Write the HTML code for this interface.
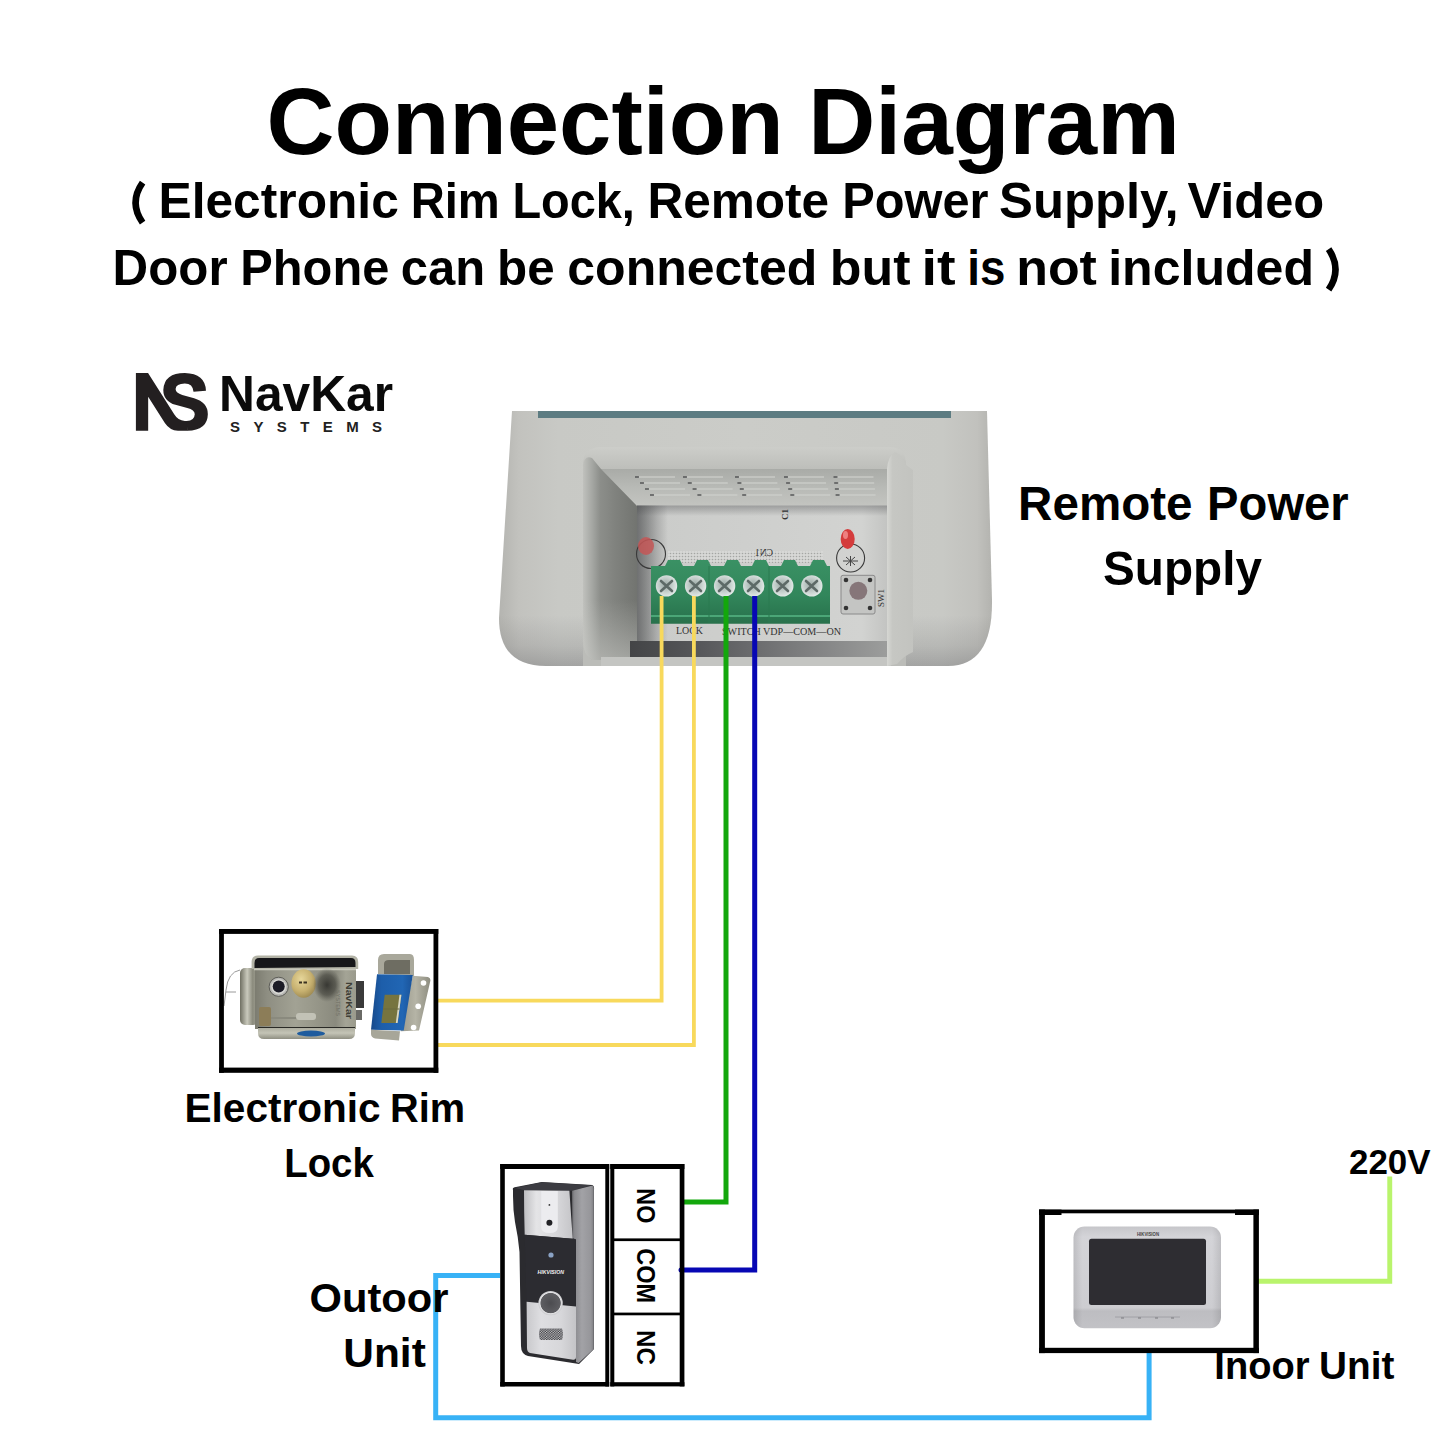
<!DOCTYPE html>
<html><head><meta charset="utf-8"><title>Connection Diagram</title>
<style>
html,body{margin:0;padding:0;background:#fff;}
body{width:1445px;height:1445px;overflow:hidden;position:relative;font-family:"Liberation Sans",sans-serif;}
svg{position:absolute;left:0;top:0;display:block;}
svg{font-family:"Liberation Sans",sans-serif;font-weight:bold;}
</style></head>
<body>
<svg width="1445" height="1445" viewBox="0 0 1445 1445">
<defs>
</defs>
<rect width="1445" height="1445" fill="#fff"/>

<!-- TITLE -->
<g id="titles" fill="#000">
<text x="266.5" y="153.5" font-size="94" textLength="517.3" lengthAdjust="spacingAndGlyphs">Connection</text>
<text x="808.3" y="153.5" font-size="94" textLength="371.5" lengthAdjust="spacingAndGlyphs">Diagram</text>
<path d="M142.6,182.6 Q128.6,202.6 142.6,222.6" fill="none" stroke="#000" stroke-width="6.6"/>
<text x="158.5" y="218.4" font-size="50" textLength="240.3" lengthAdjust="spacingAndGlyphs">Electronic</text>
<text x="410.7" y="218.4" font-size="50" textLength="89.1" lengthAdjust="spacingAndGlyphs">Rim</text>
<text x="512.4" y="218.4" font-size="50" textLength="122.5" lengthAdjust="spacingAndGlyphs">Lock,</text>
<text x="647.4" y="218.4" font-size="50" textLength="181.8" lengthAdjust="spacingAndGlyphs">Remote</text>
<text x="842.3" y="218.4" font-size="50" textLength="146.2" lengthAdjust="spacingAndGlyphs">Power</text>
<text x="999.1" y="218.4" font-size="50" textLength="179.6" lengthAdjust="spacingAndGlyphs">Supply,</text>
<text x="1187.4" y="218.4" font-size="50" textLength="136.9" lengthAdjust="spacingAndGlyphs">Video</text>
<text x="112.6" y="285" font-size="50" textLength="115.0" lengthAdjust="spacingAndGlyphs">Door</text>
<text x="240.3" y="285" font-size="50" textLength="149.0" lengthAdjust="spacingAndGlyphs">Phone</text>
<text x="400.8" y="285" font-size="50" textLength="84.4" lengthAdjust="spacingAndGlyphs">can</text>
<text x="497.0" y="285" font-size="50" textLength="57.6" lengthAdjust="spacingAndGlyphs">be</text>
<text x="567.3" y="285" font-size="50" textLength="250.1" lengthAdjust="spacingAndGlyphs">connected</text>
<text x="829.8" y="285" font-size="50" textLength="80.7" lengthAdjust="spacingAndGlyphs">but</text>
<text x="921.5" y="285" font-size="50" textLength="34.1" lengthAdjust="spacingAndGlyphs">it</text>
<text x="967.2" y="285" font-size="50" textLength="38.1" lengthAdjust="spacingAndGlyphs">is</text>
<text x="1016.2" y="285" font-size="50" textLength="80.7" lengthAdjust="spacingAndGlyphs">not</text>
<text x="1108.2" y="285" font-size="50" textLength="205.8" lengthAdjust="spacingAndGlyphs">included</text>
<path d="M1328.6,249.2 Q1342.4,269.4 1328.6,289.6" fill="none" stroke="#000" stroke-width="6.6"/>
</g>

<!-- POWER SUPPLY -->
<g id="psu">
<defs>
<linearGradient id="psBody" x1="499" y1="0" x2="992" y2="0" gradientUnits="userSpaceOnUse">
 <stop offset="0" stop-color="#b4b4b0"/><stop offset="0.04" stop-color="#c2c2be"/><stop offset="0.12" stop-color="#c8c9c5"/><stop offset="0.5" stop-color="#cbccc8"/><stop offset="0.9" stop-color="#c8c9c5"/><stop offset="0.97" stop-color="#c1c1bd"/><stop offset="1" stop-color="#b3b3af"/>
</linearGradient>
<linearGradient id="psBottom" x1="0" y1="615" x2="0" y2="666" gradientUnits="userSpaceOnUse">
 <stop offset="0" stop-color="#202028" stop-opacity="0"/><stop offset="0.6" stop-color="#202028" stop-opacity="0.1"/><stop offset="1" stop-color="#202028" stop-opacity="0.22"/>
</linearGradient>
<linearGradient id="psLipShade" x1="0" y1="446" x2="0" y2="470" gradientUnits="userSpaceOnUse">
 <stop offset="0" stop-color="#000" stop-opacity="0"/><stop offset="1" stop-color="#000" stop-opacity="0.07"/>
</linearGradient>
<linearGradient id="psVent" x1="0" y1="469" x2="0" y2="506" gradientUnits="userSpaceOnUse">
 <stop offset="0" stop-color="#a9aba7"/><stop offset="0.5" stop-color="#b8bab6"/><stop offset="1" stop-color="#c3c4c0"/>
</linearGradient>
<linearGradient id="psLW" x1="583" y1="0" x2="637" y2="0" gradientUnits="userSpaceOnUse">
 <stop offset="0" stop-color="#c0c1bd"/><stop offset="0.17" stop-color="#a5a7a3"/><stop offset="0.32" stop-color="#8c8e8a"/><stop offset="0.6" stop-color="#80827e"/><stop offset="1" stop-color="#727470"/>
</linearGradient>
<linearGradient id="psLWv" x1="0" y1="600" x2="0" y2="660" gradientUnits="userSpaceOnUse">
 <stop offset="0" stop-color="#c8c9c5" stop-opacity="0"/><stop offset="1" stop-color="#c8c9c5" stop-opacity="0.55"/>
</linearGradient>
<linearGradient id="psPcbShade" x1="637" y1="0" x2="668" y2="0" gradientUnits="userSpaceOnUse">
 <stop offset="0" stop-color="#3e3f42" stop-opacity="0.6"/><stop offset="1" stop-color="#3e3f42" stop-opacity="0"/>
</linearGradient>
<linearGradient id="psPcb" x1="637" y1="0" x2="887" y2="0" gradientUnits="userSpaceOnUse">
 <stop offset="0" stop-color="#b9bbb8"/><stop offset="0.08" stop-color="#cbccca"/><stop offset="0.9" stop-color="#d2d3d1"/><stop offset="1" stop-color="#c3c4c2"/>
</linearGradient>
<linearGradient id="psDark" x1="630" y1="0" x2="887" y2="0" gradientUnits="userSpaceOnUse">
 <stop offset="0" stop-color="#434446"/><stop offset="0.27" stop-color="#56575a"/><stop offset="0.66" stop-color="#7c7d7e"/><stop offset="1" stop-color="#9c9d9c"/>
</linearGradient>
<linearGradient id="psRW" x1="887" y1="0" x2="915" y2="0" gradientUnits="userSpaceOnUse">
 <stop offset="0" stop-color="#d6d7d3"/><stop offset="0.2" stop-color="#c6c7c3"/><stop offset="1" stop-color="#c2c3bf"/>
</linearGradient>
<linearGradient id="psTB" x1="0" y1="560" x2="0" y2="624" gradientUnits="userSpaceOnUse">
 <stop offset="0" stop-color="#3a9164"/><stop offset="0.55" stop-color="#32865b"/><stop offset="0.8" stop-color="#2c7a52"/><stop offset="1" stop-color="#29714c"/>
</linearGradient>
<radialGradient id="psScrew" cx="0.45" cy="0.45" r="0.6">
 <stop offset="0" stop-color="#9aa8a4"/><stop offset="0.6" stop-color="#c9d3d0"/><stop offset="1" stop-color="#e8eeec"/>
</radialGradient>
<pattern id="psDots" width="3" height="3" patternUnits="userSpaceOnUse"><rect width="3" height="3" fill="#d9dad8"/><circle cx="1.5" cy="1.5" r="0.8" fill="#9a9c99"/></pattern>
</defs>
<path d="M512,411 L987,411 L992,600 Q993,666 948,666 L546,666 Q499,666 499,618 Z" fill="url(#psBody)"/>
<path d="M512,411 L987,411 L992,600 Q993,666 948,666 L546,666 Q499,666 499,618 Z" fill="url(#psBottom)"/>
<rect x="538" y="411" width="413" height="7" fill="#5d7c82"/>
<!-- opening -->
<linearGradient id="psOpen" x1="0" y1="446" x2="0" y2="472" gradientUnits="userSpaceOnUse"><stop offset="0" stop-color="#cdceca"/><stop offset="1" stop-color="#bbbcb8"/></linearGradient>
<path d="M583,666 L583,465 Q583,447 601,447 L889,447 Q906,447 906,465 L906,666 Z" fill="url(#psOpen)"/>
<!-- vent wall -->
<rect x="601" y="469" width="290" height="37" fill="url(#psVent)"/>
<g stroke="#cfd0cc" stroke-width="1.3" opacity="0.8"><line x1="638.0" y1="477" x2="675.0" y2="477"/><line x1="643.0" y1="483" x2="680.0" y2="483"/><line x1="648.0" y1="489" x2="685.0" y2="489"/><line x1="653.0" y1="495" x2="690.0" y2="495"/><line x1="686.0" y1="477" x2="723.0" y2="477"/><line x1="690.8" y1="483" x2="727.8" y2="483"/><line x1="695.6" y1="489" x2="732.6" y2="489"/><line x1="700.4" y1="495" x2="737.4" y2="495"/><line x1="738.0" y1="477" x2="775.0" y2="477"/><line x1="740.4" y1="483" x2="777.4" y2="483"/><line x1="742.8" y1="489" x2="779.8" y2="489"/><line x1="745.2" y1="495" x2="782.2" y2="495"/><line x1="787.0" y1="477" x2="824.0" y2="477"/><line x1="789.1" y1="483" x2="826.1" y2="483"/><line x1="791.2" y1="489" x2="828.2" y2="489"/><line x1="793.3" y1="495" x2="830.3" y2="495"/><line x1="836.5" y1="477" x2="873.5" y2="477"/><line x1="837.2" y1="483" x2="874.2" y2="483"/><line x1="837.9" y1="489" x2="874.9" y2="489"/><line x1="838.6" y1="495" x2="875.6" y2="495"/></g>
<g stroke="#4c4d4f" stroke-width="1.7" opacity="0.8"><line x1="635.0" y1="477" x2="639.0" y2="477"/><line x1="640.0" y1="483" x2="644.0" y2="483"/><line x1="645.0" y1="489" x2="649.0" y2="489"/><line x1="650.0" y1="495" x2="654.0" y2="495"/><line x1="683.0" y1="477" x2="687.0" y2="477"/><line x1="687.8" y1="483" x2="691.8" y2="483"/><line x1="692.6" y1="489" x2="696.6" y2="489"/><line x1="697.4" y1="495" x2="701.4" y2="495"/><line x1="735.0" y1="477" x2="739.0" y2="477"/><line x1="737.4" y1="483" x2="741.4" y2="483"/><line x1="739.8" y1="489" x2="743.8" y2="489"/><line x1="742.2" y1="495" x2="746.2" y2="495"/><line x1="784.0" y1="477" x2="788.0" y2="477"/><line x1="786.1" y1="483" x2="790.1" y2="483"/><line x1="788.2" y1="489" x2="792.2" y2="489"/><line x1="790.3" y1="495" x2="794.3" y2="495"/><line x1="833.5" y1="477" x2="837.5" y2="477"/><line x1="834.2" y1="483" x2="838.2" y2="483"/><line x1="834.9" y1="489" x2="838.9" y2="489"/><line x1="835.6" y1="495" x2="839.6" y2="495"/></g>
<!-- left inner wall -->
<path d="M583,466 Q584,455 592,458 L601,469 L637,506 L637,660 L592,660 Q583,655 583,640 Z" fill="url(#psLW)"/>
<path d="M583,600 L637,600 L637,660 L592,660 Q583,655 583,640 Z" fill="url(#psLWv)"/>
<!-- PCB -->
<rect x="637" y="505.5" width="250" height="136" fill="url(#psPcb)"/>
<rect x="637" y="505.5" width="31" height="136" fill="url(#psPcbShade)"/>
<linearGradient id="psPcbTop" x1="0" y1="505.5" x2="0" y2="516" gradientUnits="userSpaceOnUse"><stop offset="0" stop-color="#3e3f42" stop-opacity="0.35"/><stop offset="1" stop-color="#3e3f42" stop-opacity="0"/></linearGradient>
<rect x="637" y="505.5" width="250" height="11" fill="url(#psPcbTop)"/>
<rect x="630" y="641" width="257" height="16" fill="url(#psDark)"/>
<rect x="601" y="657" width="290" height="9" fill="#c4c5c2"/>
<!-- right inner wall -->
<path d="M887,469 Q888,456 895,452 Q903,455 906,465 L913,470 L913,652 Q905,655 897,664 L887,666 Z" fill="url(#psRW)"/>
<!-- dotted area -->
<rect x="668" y="551" width="155" height="12" fill="url(#psDots)" opacity="0.8"/>
<!-- LEDs & outlines -->
<circle cx="651" cy="554" r="14.5" fill="none" stroke="#3a3a3a" stroke-width="1.1"/>
<ellipse cx="646" cy="546" rx="8" ry="9" fill="#c45656" opacity="0.85"/>
<circle cx="850.6" cy="558" r="14" fill="none" stroke="#3a3a3a" stroke-width="1.1"/>
<path d="M843,561 L858,561 M850.5,556 L850.5,566 M846,557 L855,565 M855,557 L846,565" stroke="#444" stroke-width="1"/>
<ellipse cx="847.7" cy="539" rx="7" ry="10" fill="#d43c3c"/>
<ellipse cx="845.5" cy="535" rx="2.5" ry="4" fill="#ee8080"/>
<!-- terminal block -->
<path d="M651,566 L665,566 L668,560 L680,560 L683,566 L694,566 L697,560 L708,560 L711,566 L724,566 L727,560 L738,560 L741,566 L752,566 L755,560 L766,560 L769,566 L781,566 L784,560 L795,560 L798,566 L810,566 L813,560 L824,560 L827,566 L830,566 L830,623.7 L651,623.7 Z" fill="url(#psTB)"/>
<line x1="651" y1="616" x2="830" y2="616" stroke="#4ba677" stroke-width="2"/>
<line x1="709" y1="566" x2="709" y2="623" stroke="#2a7a50" stroke-width="1"/>
<line x1="769" y1="566" x2="769" y2="623" stroke="#2a7a50" stroke-width="1"/>
<g>
<circle cx="666.5" cy="585.9" r="10.7" fill="url(#psScrew)"/><circle cx="695.6" cy="585.9" r="10.7" fill="url(#psScrew)"/><circle cx="724.6" cy="585.9" r="10.7" fill="url(#psScrew)"/><circle cx="753.7" cy="585.9" r="10.7" fill="url(#psScrew)"/><circle cx="782.8" cy="585.9" r="10.7" fill="url(#psScrew)"/><circle cx="811.8" cy="585.9" r="10.7" fill="url(#psScrew)"/>
</g>
<g stroke="#5d6a67" stroke-width="2.6" stroke-linecap="round">
<path d="M661,581 L672,591 M672,581 L661,591"/><path d="M690,581 L701,591 M701,581 L690,591"/><path d="M719,581 L730,591 M730,581 L719,591"/><path d="M748,581 L759,591 M759,581 L748,591"/><path d="M777,581 L788,591 M788,581 L777,591"/><path d="M806,581 L817,591 M817,581 L806,591"/>
</g>
<!-- push button -->
<rect x="841" y="575.3" width="34" height="38.7" rx="2" fill="#c4c5c3" stroke="#8a8a8a" stroke-width="1"/>
<circle cx="858.3" cy="590.8" r="9" fill="#867679"/>
<circle cx="846" cy="580" r="2.3" fill="#333"/><circle cx="870" cy="580" r="2.3" fill="#333"/><circle cx="846" cy="608" r="2.3" fill="#333"/><circle cx="870" cy="608" r="2.3" fill="#333"/>
<!-- pcb texts -->
<g style="font-family:'Liberation Serif',serif;font-weight:normal" font-size="10" fill="#333">
<text x="676" y="634" textLength="27" lengthAdjust="spacingAndGlyphs">LOCK</text>
<text x="722" y="635" textLength="119" lengthAdjust="spacingAndGlyphs">SWITCH VDP—COM—ON</text>
<text x="-773" y="556" textLength="18" lengthAdjust="spacingAndGlyphs" transform="scale(-1,1)">CN1</text>
<text transform="translate(788,520) rotate(-90)" font-size="9" style="font-weight:bold">C1</text>
<text transform="translate(884,607) rotate(-90)" font-size="9" textLength="18" lengthAdjust="spacingAndGlyphs">SW1</text>
</g>
</g>
<!-- WIRES -->
<g fill="none" stroke-linejoin="miter" stroke-linecap="butt">
<polyline points="661.6,596 661.6,1000.7 438,1000.7" stroke="#f8d95c" stroke-width="3.8"/>
<polyline points="693.9,596 693.9,1045 438,1045" stroke="#f8d95c" stroke-width="3.8"/>
<polyline points="726,596 726,1202 684,1202" stroke="#13a70c" stroke-width="5"/>
<polyline points="754.7,596 754.7,1270 681,1270" stroke="#0707b4" stroke-width="5"/>
<circle cx="681" cy="1270" r="2.5" fill="#0707b4" stroke="none"/>
<polyline points="500,1275.4 435.7,1275.4 435.7,1417.7 1149.1,1417.7 1149.1,1352" stroke="#38b2f6" stroke-width="5"/>
<polyline points="1258,1281.3 1389.75,1281.3 1389.75,1176.5" stroke="#b9f46c" stroke-width="4.9"/>
</g>


<!-- LOCK -->
<g id="lock">
<defs>
<linearGradient id="lkFace" x1="0" y1="0" x2="1" y2="0">
 <stop offset="0" stop-color="#7c7c70"/><stop offset="0.12" stop-color="#8e8e82"/><stop offset="0.4" stop-color="#a2a294"/><stop offset="0.55" stop-color="#9a9a8c"/><stop offset="0.8" stop-color="#8a8a7e"/><stop offset="0.9" stop-color="#a4a496"/><stop offset="1" stop-color="#9a9a8c"/>
</linearGradient>
<radialGradient id="lkSmudge" cx="0.5" cy="0.5" r="0.5">
 <stop offset="0" stop-color="#2e2e2a" stop-opacity="0.9"/><stop offset="0.6" stop-color="#3a3a34" stop-opacity="0.6"/><stop offset="1" stop-color="#4a4a44" stop-opacity="0"/>
</radialGradient>
<linearGradient id="lkSide" x1="0" y1="0" x2="1" y2="0">
 <stop offset="0" stop-color="#6f6f62"/><stop offset="0.4" stop-color="#c9c9bc"/><stop offset="0.7" stop-color="#8c8c7e"/><stop offset="1" stop-color="#a0a092"/>
</linearGradient>
<linearGradient id="lkRim" x1="0" y1="0" x2="0" y2="1">
 <stop offset="0" stop-color="#a9a99b"/><stop offset="0.5" stop-color="#c4c4b6"/><stop offset="1" stop-color="#8f8f82"/>
</linearGradient>
<radialGradient id="lkGold" cx="0.4" cy="0.35" r="0.7">
 <stop offset="0" stop-color="#e6d69a"/><stop offset="0.6" stop-color="#c7b170"/><stop offset="1" stop-color="#9b8750"/>
</radialGradient>
<linearGradient id="lkPlate" x1="0" y1="0" x2="1" y2="0">
 <stop offset="0" stop-color="#9b9a8c"/><stop offset="0.5" stop-color="#b5b4a6"/><stop offset="1" stop-color="#8e8d80"/>
</linearGradient>
</defs>
<!-- wire loop -->
<path d="M240,970 Q228,972 226,990 L224,1006 M226,992 L236,992" fill="none" stroke="#9a9a9a" stroke-width="1"/>
<!-- left side plate -->
<rect x="240" y="968" width="18" height="57" rx="5" fill="url(#lkSide)"/>
<!-- main face -->
<rect x="255" y="966" width="101" height="63" fill="url(#lkFace)"/>
<!-- top dark band -->
<path d="M251.6,969 L251.6,962 Q251.6,955.5 258,955.5 L352,955.5 Q358.2,955.5 358.2,962 L358.2,969 Z" fill="#b3b3a6"/>
<path d="M254.5,968 L254.5,963 Q254.5,958 259,958 L351,958 Q355.5,958 355.5,963 L355.5,967 Z" fill="#17171a"/>
<line x1="254" y1="969.5" x2="356" y2="969.5" stroke="#c8c8bc" stroke-width="1.4"/>
<!-- bottom rim -->
<path d="M258,1027 L355,1027 L355,1033 Q355,1039 349,1039 L264,1039 Q258,1039 258,1033 Z" fill="url(#lkRim)"/>
<line x1="258" y1="1027.5" x2="355" y2="1027.5" stroke="#2a2a26" stroke-width="1.2"/>
<ellipse cx="311" cy="1033.5" rx="14" ry="3" fill="#1f5c9e"/>
<!-- cylinder silver -->
<circle cx="278.7" cy="986.8" r="9.6" fill="#b8b8b4" stroke="#5d5d58" stroke-width="1"/><circle cx="278.7" cy="986.8" r="7.5" fill="#d8d8d4"/>
<circle cx="278.7" cy="986.5" r="6" fill="#1b1b26"/>
<!-- gold cylinder -->
<ellipse cx="303.6" cy="983.5" rx="12.2" ry="14.3" fill="url(#lkGold)"/>
<rect x="299" y="981.5" width="3" height="2" fill="#3a3220"/><rect x="303.5" y="981.5" width="3.5" height="2" fill="#3a3220"/>
<!-- dark smudge right -->
<ellipse cx="327" cy="985" rx="14" ry="17" fill="url(#lkSmudge)"/>
<!-- brass part bottom-left -->
<rect x="259" y="1007" width="12" height="19" rx="2" fill="#8c7d58"/>
<line x1="271" y1="1018" x2="300" y2="1018" stroke="#8a8a7e" stroke-width="2"/>
<rect x="296" y="1013" width="20" height="7" rx="3" fill="#c2c2b6"/>
<!-- text -->
<text x="0" y="0" font-size="9" fill="#3e3e36" transform="translate(345.5,982) rotate(90)" textLength="37" lengthAdjust="spacingAndGlyphs">NavKar</text>
<text x="0" y="0" font-size="6" fill="#6e6e64" transform="translate(335.5,990) rotate(90)" textLength="26" lengthAdjust="spacingAndGlyphs" style="font-weight:normal">SYSTEMS</text>
<!-- bolt -->
<rect x="356" y="981" width="8" height="27" fill="#3a3a3a"/>
<rect x="356" y="1010" width="6" height="10" fill="#6a6a66"/>
<!-- strike: top hook -->
<path d="M378,974 L378,960 Q378,954 384,954 L410,954 Q414,954 414,960 L414,976 Z" fill="#a9a89b"/>
<path d="M384,974 L384,964 Q384,960 389,960 L410,960 L410,974 Z" fill="#6e6d62"/>
<!-- mounting plate -->
<path d="M412.8,975.8 L428,977 Q431,978 430.3,981 L419,1030.6 L400.7,1031.3 Z" fill="url(#lkPlate)"/>
<circle cx="423.5" cy="983" r="2.8" fill="#fff"/><circle cx="418.2" cy="1006.2" r="2.8" fill="#fff"/><circle cx="413.6" cy="1027.5" r="2.8" fill="#fff"/>
<!-- blue plate -->
<linearGradient id="lkBlue" x1="371" y1="0" x2="413" y2="0" gradientUnits="userSpaceOnUse"><stop offset="0" stop-color="#17498a"/><stop offset="0.25" stop-color="#1d5eaa"/><stop offset="0.75" stop-color="#2166b4"/><stop offset="1" stop-color="#1a5298"/></linearGradient>
<path d="M377,974.2 L412.8,975 L403.7,1030.6 L371,1029.8 Z" fill="url(#lkBlue)"/>
<path d="M384.7,994.8 L401.4,994.8 L397.6,1023 L381.3,1023 Z" fill="#76743f"/>
<path d="M399.5,994.8 L401.4,994.8 L397.6,1023 L395.8,1023 Z" fill="#d8d8c8"/>
<path d="M383,1009 L399.5,1009" stroke="#6a6a40" stroke-width="1"/>
<!-- bottom silver -->
<path d="M371,1029.8 L400,1031.3 L399,1040.5 L375,1038.5 Q371,1037 371,1034 Z" fill="#a7a699"/>
</g>


<!-- DOORBELL -->
<g id="doorbell">
<defs>
<linearGradient id="dbSide" x1="572" y1="0" x2="594" y2="0" gradientUnits="userSpaceOnUse">
 <stop offset="0" stop-color="#6e6e72"/><stop offset="0.12" stop-color="#8a8a8e"/><stop offset="0.45" stop-color="#a2a2a6"/><stop offset="0.85" stop-color="#96969a"/><stop offset="1" stop-color="#7c7c80"/>
</linearGradient>
<linearGradient id="dbTop" x1="524" y1="0" x2="573" y2="0" gradientUnits="userSpaceOnUse">
 <stop offset="0" stop-color="#bfbfc2"/><stop offset="0.25" stop-color="#e4e4e6"/><stop offset="0.7" stop-color="#d6d6d9"/><stop offset="1" stop-color="#c4c4c7"/>
</linearGradient>
<linearGradient id="dbBot" x1="526" y1="0" x2="576" y2="0" gradientUnits="userSpaceOnUse">
 <stop offset="0" stop-color="#c8c8cb"/><stop offset="0.3" stop-color="#dedee1"/><stop offset="0.7" stop-color="#d7d7da"/><stop offset="1" stop-color="#c4c4c7"/>
</linearGradient>
<radialGradient id="dbBtn" cx="0.5" cy="0.5" r="0.5">
 <stop offset="0" stop-color="#4c4c50"/><stop offset="0.8" stop-color="#5e5e62"/><stop offset="0.86" stop-color="#e2e2e4"/><stop offset="1" stop-color="#c8c8cb"/>
</radialGradient>
<pattern id="dbGrille" width="2.6" height="2.4" patternUnits="userSpaceOnUse"><rect width="2.6" height="2.4" fill="#d2d2d5"/><circle cx="0.65" cy="0.6" r="0.75" fill="#2e2e32"/><circle cx="1.95" cy="1.8" r="0.75" fill="#2e2e32"/></pattern>
</defs>
<!-- outer dark frame -->
<path d="M513,1190 Q512,1187.5 516,1187 L541.8,1181.9 L592.4,1184.9 Q594.5,1186 594,1190 L594,1349 L579,1364 L528,1356 Q521,1354 521,1346 L519.5,1252 Q518,1236 515,1222 Q513,1210 513,1196 Z" fill="#2b2b2f"/>
<!-- hood top -->
<path d="M515,1188 L541.8,1182.3 L591.5,1185.2 L572.1,1190.8 L523.4,1190.1 Z" fill="#3c3c42"/>
<!-- right side panel -->
<path d="M572.1,1190.8 L592.6,1185.6 L593.8,1188 L593.8,1349 L578.6,1363 L576,1362 L576,1240 L572.5,1238 Z" fill="url(#dbSide)"/>
<!-- top silver face -->
<path d="M524,1190.3 L569.4,1190.8 Q571,1215 572.7,1238.8 L524.7,1234.8 Q524,1212 524,1190.3 Z" fill="url(#dbTop)"/>
<!-- camera housing -->
<path d="M541.2,1191 L557.8,1191 L557.8,1227 Q557.8,1233 549.5,1233 Q541.2,1233 541.2,1227 Z" fill="#ececef"/>
<circle cx="549.4" cy="1222.7" r="3" fill="#222226"/>
<circle cx="549.4" cy="1204.9" r="0.9" fill="#333"/>
<!-- black middle -->
<path d="M524.7,1234.8 L572.7,1238.8 L575.8,1239 L575.8,1306 L526.4,1303 Z" fill="#2c2c31"/>
<circle cx="551" cy="1255" r="2.6" fill="#8aa2c4"/>
<text x="537.5" y="1273.5" font-size="5.2" fill="#f2f2f2" style="font-style:italic" textLength="26.5" lengthAdjust="spacingAndGlyphs">HIKVISION</text>
<!-- bottom silver -->
<path d="M526.6,1301.8 L576,1306.5 L576,1357 Q576,1360 573,1359.7 L530,1353 Q527,1352 527,1348 Z" fill="url(#dbBot)"/>
<!-- button -->
<circle cx="550.6" cy="1303.1" r="12.2" fill="url(#dbBtn)"/>
<!-- grille -->
<path d="M540,1328.5 L562,1328.5 Q564,1334 562,1340 L540,1340 Q538,1334 540,1328.5 Z" fill="url(#dbGrille)"/>
</g>

<!-- MONITOR -->
<g id="monitor">
<defs>
<linearGradient id="monBody" x1="0" y1="0" x2="0" y2="1">
 <stop offset="0" stop-color="#c6c6ca"/><stop offset="0.1" stop-color="#d4d4d8"/><stop offset="0.8" stop-color="#cdcdd1"/><stop offset="0.83" stop-color="#bdbdc1"/><stop offset="1" stop-color="#c2c2c6"/>
</linearGradient>
<linearGradient id="monEdge" x1="0" y1="0" x2="1" y2="0">
 <stop offset="0" stop-color="#000" stop-opacity="0.1"/><stop offset="0.06" stop-color="#000" stop-opacity="0"/><stop offset="0.94" stop-color="#000" stop-opacity="0"/><stop offset="1" stop-color="#000" stop-opacity="0.1"/>
</linearGradient>
</defs>
<rect x="1073.5" y="1226.6" width="147.5" height="101.6" rx="11" fill="url(#monBody)"/>
<rect x="1073.5" y="1226.6" width="147.5" height="101.6" rx="11" fill="url(#monEdge)"/>
<rect x="1089" y="1238.7" width="117" height="66.4" rx="2.5" fill="#2e2d32"/>
<text x="1137" y="1235.8" font-size="4.5" fill="#444" textLength="22" lengthAdjust="spacingAndGlyphs">HIKVISION</text>
<line x1="1115" y1="1317" x2="1180" y2="1317" stroke="#9a9a9e" stroke-width="0.8"/>
<g fill="#7a7a7e"><rect x="1121" y="1317.5" width="3" height="1"/><rect x="1138" y="1317.5" width="3" height="1"/><rect x="1155" y="1317.5" width="3" height="1"/><rect x="1171" y="1317.5" width="3" height="1"/></g>
</g>

<!-- TERMINAL TEXT -->
<g fill="#000">
<text transform="translate(636.6,1188.3) rotate(90)" font-size="25.6" textLength="35" lengthAdjust="spacingAndGlyphs">NO</text>
<text transform="translate(636.6,1248.2) rotate(90)" font-size="25.6" textLength="55" lengthAdjust="spacingAndGlyphs">COM</text>
<text transform="translate(636.6,1329.9) rotate(90)" font-size="25.6" textLength="35" lengthAdjust="spacingAndGlyphs">NC</text>
</g>

<!-- BOXES -->
<g fill="#000">
<rect x="219.1" y="929" width="219.2" height="4.9"/><rect x="219.1" y="1067.6" width="219.2" height="5.2"/><rect x="219.1" y="929" width="4.8" height="143.8"/><rect x="433.5" y="929" width="4.8" height="143.8"/>
<rect x="500.2" y="1164" width="109.0" height="5.0"/><rect x="500.2" y="1382.0" width="109.0" height="4.5"/><rect x="500.2" y="1164" width="4.6" height="222.5"/><rect x="605.3" y="1164" width="3.9" height="222.5"/>
<rect x="610.3" y="1164" width="74.1" height="5.0"/><rect x="610.3" y="1382.2" width="74.1" height="4.2"/><rect x="610.3" y="1164" width="4.0" height="222.4"/><rect x="679.7" y="1164" width="4.7" height="222.4"/>
<rect x="612" y="1238.4" width="70" height="2.7"/><rect x="612" y="1312.6" width="70" height="2.7"/>
<rect x="1039.1" y="1209.6" width="219.8" height="3.7"/><rect x="1039.1" y="1347.8" width="219.8" height="5.3"/><rect x="1039.1" y="1209.6" width="5.8" height="143.5"/><rect x="1253.4" y="1209.6" width="5.5" height="143.5"/>
<rect x="1039.1" y="1209.6" width="22.4" height="5.4"/><rect x="1235" y="1209.6" width="23.9" height="5.4"/>
</g>


<!-- LOGO -->
<g id="logo">
<svg x="125" y="365" width="90" height="75" viewBox="0 0 1445 1204" overflow="visible">
<g fill="#231f20">
<path d="M175,130 L370,130 L790,790 Q850,890 960,898 L1005,898 L1005,1055 L850,1055 Q720,1050 640,930 L372,510 L372,1055 L175,1055 Z"/>
<path d="M1300,415 L1100,430 Q1090,300 960,298 Q820,300 812,385 Q815,450 920,480 L1110,535 Q1330,600 1330,790 Q1325,1050 1000,1055 L990,898 Q1115,895 1120,790 Q1120,720 1000,690 L810,640 Q615,580 615,400 Q630,130 960,130 Q1290,140 1300,415 Z"/>
</g>
</svg>
<text fill="#0a0a0a" x="219.0" y="411" font-size="49.3" textLength="174.0" lengthAdjust="spacingAndGlyphs">NavKar</text>
<text x="230" y="431.5" font-size="15" fill="#222" letter-spacing="13.4" style="font-weight:bold">SYSTEMS</text>
</g>
<!-- LABELS -->
<g id="labels" fill="#000">
<text x="1018.1" y="520" font-size="48.4" textLength="174.4" lengthAdjust="spacingAndGlyphs">Remote</text>
<text x="1207.1" y="520" font-size="48.4" textLength="141.6" lengthAdjust="spacingAndGlyphs">Power</text>
<text x="1103.0" y="585.3" font-size="48.4" textLength="158.9" lengthAdjust="spacingAndGlyphs">Supply</text>
<text x="184.5" y="1121.7" font-size="40.6" textLength="196.2" lengthAdjust="spacingAndGlyphs">Electronic</text>
<text x="390.1" y="1121.7" font-size="40.6" textLength="75.1" lengthAdjust="spacingAndGlyphs">Rim</text>
<text x="284.2" y="1176.8" font-size="40.6" textLength="89.6" lengthAdjust="spacingAndGlyphs">Lock</text>
<text x="309.5" y="1311.9" font-size="40.6" textLength="138.9" lengthAdjust="spacingAndGlyphs">Outoor</text>
<text x="343.3" y="1366.6" font-size="41" textLength="82.5" lengthAdjust="spacingAndGlyphs">Unit</text>
<text x="1214.3" y="1379.4" font-size="38.5" textLength="95.2" lengthAdjust="spacingAndGlyphs">Inoor</text>
<text x="1319.1" y="1379.4" font-size="38.5" textLength="75.3" lengthAdjust="spacingAndGlyphs">Unit</text>
<text x="1349.0" y="1174.3" font-size="34.5" textLength="81.6" lengthAdjust="spacingAndGlyphs">220V</text>
</g>


</svg>
</body></html>
